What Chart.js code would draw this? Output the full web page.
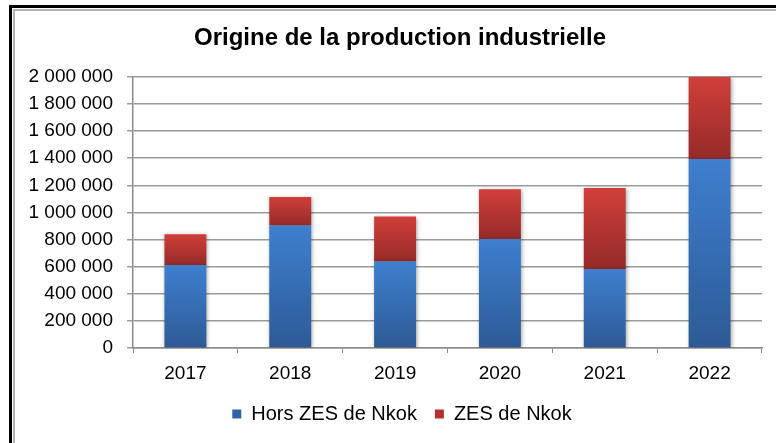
<!DOCTYPE html>
<html>
<head>
<meta charset="utf-8">
<script src="https://cdn.jsdelivr.net/npm/chart.js@4/dist/chart.umd.min.js"></script>
<style>
  html, body { margin: 0; padding: 0; background: #fff; }
  #wrap { position: relative; width: 776px; height: 443px; overflow: hidden; }
  #frame1 { position: absolute; left: 9px; top: 5px; width: 900px; height: 600px;
            border-left: 3px solid #000; border-top: 3px solid #000; pointer-events: none; }
  #frame2 { position: absolute; left: 13px; top: 9px; width: 900px; height: 432px;
            border-left: 2px solid #b4b4b4; border-top: 2px solid #b4b4b4;
            border-bottom: 1px solid #dcdcdc; pointer-events: none; }
  canvas { position: absolute; left: 0; top: 0; }
</style>
</head>
<body>
<div id="wrap">
  <canvas id="GraphProd" width="776" height="443"></canvas>
  <div id="frame1"></div>
  <div id="frame2"></div>
</div>
<script>
var annees = ['2017', '2018', '2019', '2020', '2021', '2022'];
var horsZes = [613000, 903000, 638000, 803000, 582000, 1394000];
var zesNkok = [226000, 211000, 331000, 368000, 598000, 606000];
var yTicks = [0, 200000, 400000, 600000, 800000, 1000000, 1200000, 1400000, 1600000, 1800000, 2000000];

var couleurs = {
    bleu: ['#3e7fcf', '#2d5a95', '#3163a8'],
    rouge: ['#d13f3a', '#952a28', '#b5332f']
};

function espaces(v){
    return String(v).replace(/\B(?=(\d{3})+(?!\d))/g, ' ');
}

// gradient per segment, from its own top to its own bottom
function degrade(serie, c){
    var chart = c.chart;
    var col = serie == 0 ? couleurs.bleu : couleurs.rouge;
    if(!chart.chartArea || c.type !== 'data'){
        return col[2];
    }
    var i = c.dataIndex;
    var base = serie == 0 ? 0 : horsZes[i];
    var haut = base + (serie == 0 ? horsZes[i] : zesNkok[i]);
    var y = chart.scales.y;
    var g = chart.ctx.createLinearGradient(0, y.getPixelForValue(haut), 0, y.getPixelForValue(base));
    g.addColorStop(0, col[0]);
    g.addColorStop(1, col[1]);
    return g;
}

var ombre = {
    id: 'ombre',
    beforeDatasetsDraw: function(chart){
        var ctx = chart.ctx;
        ctx.save();
        ctx.shadowColor = 'rgba(0,0,0,0.35)';
        ctx.shadowBlur = 4;
        ctx.shadowOffsetX = 1;
        ctx.shadowOffsetY = 1;
    },
    afterDatasetsDraw: function(chart){
        chart.ctx.restore();
    }
};

// title and legend are centred on the frame, not on the canvas
var recentre = {
    id: 'recentre',
    afterLayout: function(chart){
        chart.titleBlock.left = 38;
        chart.legend.left = 42;
    }
};

var prod = document.getElementById("GraphProd");
var ProdChart = new Chart(prod, {
    type: 'bar',
    data: {
        labels: annees,
        datasets: [
            {
                label: 'Hors ZES de Nkok',
                data: horsZes,
                backgroundColor: function(c){ return degrade(0, c); },
                borderWidth: 0
            },
            {
                label: 'ZES de Nkok',
                data: zesNkok,
                backgroundColor: function(c){ return degrade(1, c); },
                borderWidth: 0
            }
        ]
    },
    plugins: [ombre, recentre],
    options: {
        responsive: false,
        animation: false,
        layout: {
            padding: { left: 0, right: 14, top: 0, bottom: 9 }
        },
        datasets: {
            bar: { categoryPercentage: 1, barPercentage: 0.4 }
        },
        plugins: {
            title: {
                display: true,
                text: 'Origine de la production industrielle',
                color: '#000',
                font: { family: 'Liberation Sans, Arial, sans-serif', size: 24, weight: 'bold' },
                padding: { top: 24, bottom: 24 }
            },
            legend: {
                position: 'bottom',
                labels: {
                    color: '#000',
                    font: { family: 'Liberation Sans, Arial, sans-serif', size: 20 },
                    boxWidth: 9,
                    boxHeight: 9,
                    padding: 18,
                    generateLabels: function(chart){
                        var items = Chart.defaults.plugins.legend.labels.generateLabels(chart);
                        items[0].fillStyle = couleurs.bleu[2];
                        items[1].fillStyle = couleurs.rouge[2];
                        items.forEach(function(it){ it.lineWidth = 0; it.strokeStyle = 'transparent'; });
                        return items;
                    }
                }
            },
            tooltip: { enabled: false }
        },
        scales: {
            x: {
                stacked: true,
                afterFit: function(scale){ scale.height = 38; },
                grid: {
                    offset: true,
                    drawOnChartArea: false,
                    color: '#8c8c8c',
                    tickLength: 5
                },
                border: { color: '#8c8c8c', width: 1.5 },
                ticks: {
                    color: '#000',
                    padding: 9,
                    font: { family: 'Liberation Sans, Arial, sans-serif', size: 19 }
                }
            },
            y: {
                stacked: true,
                min: 0,
                max: 2000000,
                afterFit: function(scale){ scale.width = 133; },
                afterBuildTicks: function(scale){
                    scale.ticks = yTicks.map(function(v){ return { value: v }; });
                },
                grid: {
                    color: '#9a9a9a',
                    lineWidth: 1.5,
                    tickLength: 6
                },
                border: { color: '#8c8c8c', width: 1.5 },
                ticks: {
                    color: '#000',
                    padding: 14,
                    font: { family: 'Liberation Sans, Arial, sans-serif', size: 19 },
                    callback: function(v){ return espaces(v); }
                }
            }
        }
    }
});
</script>
</body>
</html>
